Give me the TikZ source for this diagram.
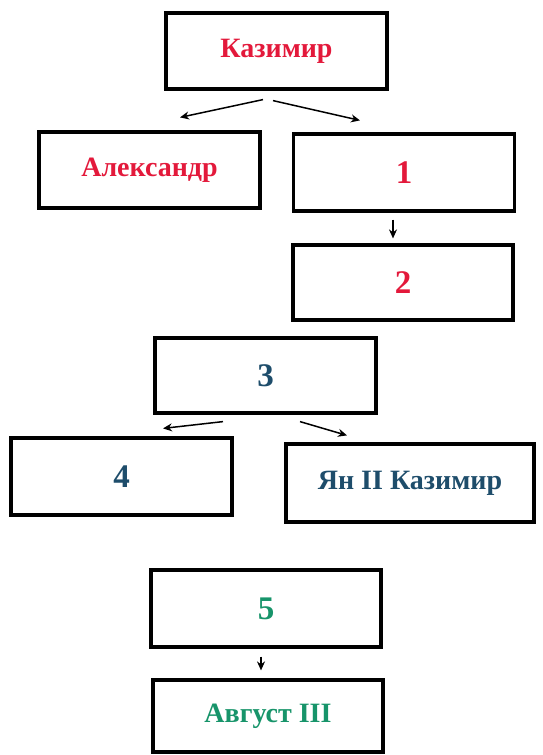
\documentclass[tikz,border=0pt]{standalone}
\usepackage{fontspec}
\setmainfont{Liberation Serif}
\usepackage{tikz}
\usetikzlibrary{arrows.meta,calc,positioning}
\definecolor{crimson}{HTML}{E3193B}
\definecolor{navy}{HTML}{1E4D6B}
\definecolor{jade}{HTML}{17946A}
\begin{document}
\begin{tikzpicture}[x=1pt,y=-1pt,
  box/.style={draw,line width=3.2pt,minimum width=221pt,minimum height=76pt,inner sep=0pt,font=\bfseries\fontsize{28}{30}\selectfont},
  num/.style={font=\bfseries\fontsize{33}{35}\selectfont},
  arr/.style={-{Stealth[length=9pt,width=8pt]},line width=1.5pt}]
  \useasboundingbox (0,0) rectangle (543,755);
  \node[box,text=crimson] (kaz) at (276.5,51) {Казимир};
  \node[box,text=crimson] (alex) at (149.5,170) {Александр};
  \node[box,num,text=crimson,minimum height=77pt] (n1) at (404,172.5) {1};
  \node[box,num,text=crimson,minimum width=220pt,minimum height=75pt] (n2) at (403,282.5) {2};
  \node[box,num,text=navy,minimum height=75pt] (n3) at (265.5,375.5) {3};
  \node[box,num,text=navy,minimum height=77pt] (n4) at (121.5,476.5) {4};
  \node[box,text=navy,minimum width=248pt,minimum height=78pt] (jan) at (410,483) {Ян II Казимир};
  \node[box,num,text=jade,minimum width=230pt,minimum height=77pt] (n5) at (266,608.5) {5};
  \node[box,text=jade,minimum width=230pt,minimum height=72pt] (avg) at (268,716) {Август III};
  \draw[arr] ($(kaz.south)+(-13.5,9)$) -- ($(alex.north)+(30.5,-13)$);
  \draw[arr] ($(kaz.south)+(-3.5,10)$) -- ($(n1.north)+(-44,-12)$);
  \draw[arr] ($(n1.south)+(-11,7)$) -- ($(n2.north)+(-10,-5)$);
  \draw[arr] ($(n3.south)+(-42.5,7)$) -- ($(n4.north)+(41.5,-8)$);
  \draw[arr] ($(n3.south)+(34.5,7)$) -- ($(jan.north)+(-63,-7)$);
  \draw[arr] ($(n5.south)+(-5,8)$) -- ($(avg.north)+(-7,-8)$);
\end{tikzpicture}
\end{document}
